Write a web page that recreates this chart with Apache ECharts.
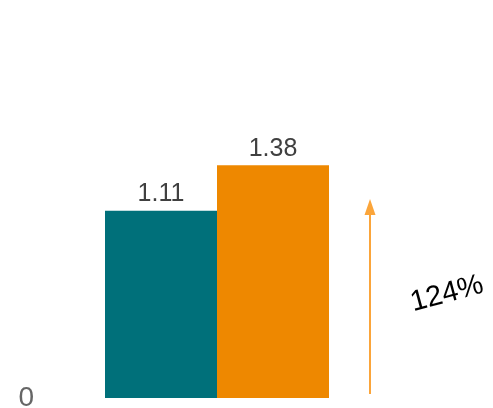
<!DOCTYPE html>
<html>
<head>
<meta charset="utf-8">
<script src="https://cdn.jsdelivr.net/npm/echarts@6/dist/echarts.min.js"></script>
<style>
  html, body { margin: 0; padding: 0; background: #ffffff; }
  #chart { width: 493px; height: 408px; }
</style>
</head>
<body>
<div id="chart"></div>
<script>
// Two bars compared side by side, with a growth arrow and its percentage
const categories = [''];
const seriesNames = ['A', 'B'];
const valuesA = [1.11];
const valuesB = [1.38];
const barColors = ['#00707A', '#EE8800'];
const yTicks = [0];
const growthLabel = '124%';

const chart = echarts.init(document.getElementById('chart'), null, { renderer: 'canvas' });

const labelStyle = {
  show: true,
  position: 'top',
  distance: 4,
  color: '#404040',
  fontFamily: 'Liberation Sans, Arial, sans-serif',
  fontSize: 25
};

chart.setOption({
  animation: false,
  grid: {
    left: 105, right: 164, top: 10, bottom: 10,
    containLabel: false,
    outerBoundsMode: 'none'
  },
  xAxis: {
    type: 'category',
    data: categories,
    axisLine: { show: false },
    axisTick: { show: false },
    axisLabel: { show: false }
  },
  yAxis: {
    type: 'value',
    min: 0,
    max: 2.3,
    interval: 0.1,
    splitLine: { show: false },
    axisLine: { show: false },
    axisTick: { show: false },
    axisLabel: {
      margin: 71,
      color: '#666666',
      fontFamily: 'Liberation Sans, Arial, sans-serif',
      fontSize: 28,
      formatter: function (v) { return yTicks.indexOf(v) >= 0 ? String(v) : ''; }
    }
  },
  series: [
    {
      name: seriesNames[0],
      type: 'bar',
      data: valuesA,
      barGap: 0,
      barCategoryGap: 0,
      itemStyle: { color: barColors[0] },
      label: labelStyle
    },
    {
      name: seriesNames[1],
      type: 'bar',
      data: valuesB,
      barGap: 0,
      barCategoryGap: 0,
      itemStyle: { color: barColors[1] },
      label: labelStyle
    }
  ],
  graphic: [
    {
      type: 'line',
      shape: { x1: 370, y1: 394, x2: 370, y2: 212 },
      style: { stroke: '#FBA53A', lineWidth: 2 }
    },
    {
      type: 'polygon',
      shape: { points: [[370, 199], [364.5, 215], [375.5, 215]] },
      style: { fill: '#FBA53A' }
    },
    {
      type: 'text',
      x: 447,
      y: 294,
      rotation: 15 * Math.PI / 180,
      style: {
        text: growthLabel,
        fill: '#000000',
        font: '29px "Liberation Sans", Arial, sans-serif',
        textAlign: 'center',
        textVerticalAlign: 'middle'
      }
    }
  ]
});
</script>
</body>
</html>
